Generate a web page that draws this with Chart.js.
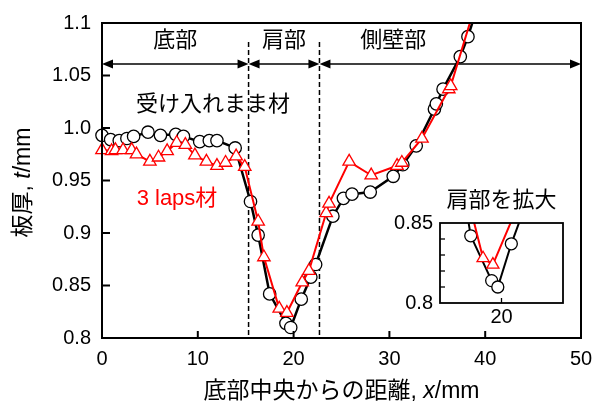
<!DOCTYPE html>
<html>
<head>
<meta charset="utf-8">
<script src="https://cdn.jsdelivr.net/npm/chart.js@4"></script>
<style>
  html, body { margin: 0; padding: 0; background: #fff; }
  #wrap { position: relative; width: 603px; height: 405px; }
  canvas { position: absolute; left: 0; top: 0; }
</style>
</head>
<body>
<div id="wrap">
  <canvas id="grafica" width="603" height="405"></canvas>
  <canvas id="graficaZoom" width="603" height="405"></canvas>
</div>
<script>
// datos
const distBase = [0, 0.9, 1.8, 2.6, 3.3, 4.8, 6.1, 7.7, 8.5, 10.2, 11.2, 12.0, 13.9, 15.5, 16.3, 17.5, 19.2, 19.7, 20.8, 21.8, 22.3, 24.1, 25.2, 26.1, 28.0, 30.4, 31.4, 32.8, 34.7, 34.9, 35.6, 37.4, 38.2, 39.0];
const espBase = [0.993, 0.989, 0.988, 0.990, 0.992, 0.996, 0.993, 0.994, 0.992, 0.987, 0.988, 0.988, 0.981, 0.930, 0.898, 0.842, 0.814, 0.810, 0.837, 0.858, 0.870, 0.916, 0.933, 0.937, 0.939, 0.954, 0.965, 0.983, 1.018, 1.023, 1.037, 1.068, 1.087, 1.110];
const distLaps = [0, 1.0, 1.4, 2.2, 3.1, 3.6, 5.0, 5.9, 6.8, 7.8, 8.7, 9.7, 10.9, 12.0, 12.9, 14.0, 14.9, 16.3, 16.9, 18.5, 19.3, 20.9, 21.6, 23.4, 23.7, 25.8, 28.1, 30.8, 31.3, 33.4, 36.2, 36.4, 39.0];
const espLaps = [0.979, 0.978, 0.979, 0.979, 0.979, 0.975, 0.968, 0.972, 0.978, 0.986, 0.984, 0.974, 0.968, 0.964, 0.967, 0.973, 0.963, 0.911, 0.877, 0.828, 0.824, 0.853, 0.864, 0.919, 0.928, 0.968, 0.955, 0.964, 0.967, 0.990, 1.037, 1.040, 1.118];

const ticksX = [0, 10, 20, 30, 40, 50];
const etiquetasX = ['0', '10', '20', '30', '40', '50'];
const ticksY = [0.8, 0.85, 0.9, 0.95, 1.0, 1.05, 1.1];
const etiquetasY = ['0.8', '0.85', '0.9', '0.95', '1.0', '1.05', '1.1'];

const limites = [0, 15.3, 22.7, 50];
const regiones = ['底部', '肩部', '側壁部'];

const ticksZoomX = [20];
const etiquetasZoomX = ['20'];
const ticksZoomY = [0.8, 0.85];
const etiquetasZoomY = ['0.8', '0.85'];
const menoresZoomY = [0.81, 0.82, 0.83, 0.84];

const FUENTE = '"Liberation Sans", Arial, "Noto Sans CJK JP", sans-serif';

function puntos(xs, ys) {
    return xs.map((v, i) => ({ x: v, y: ys[i] }));
}

function dibujarTexto(ctx, partes, x, y, size, color) {
    // partes: [texto, cursiva]
    let total = 0;
    partes.forEach(p => {
        ctx.font = `${p[1] ? 'italic ' : ''}${size}px ${FUENTE}`;
        total += ctx.measureText(p[0]).width;
    });
    let cx = x - total / 2;
    ctx.fillStyle = color;
    ctx.textAlign = 'left';
    ctx.textBaseline = 'middle';
    partes.forEach(p => {
        ctx.font = `${p[1] ? 'italic ' : ''}${size}px ${FUENTE}`;
        ctx.fillText(p[0], cx, y);
        cx += ctx.measureText(p[0]).width;
    });
}

function flecha(ctx, x1, x2, y) {
    ctx.beginPath();
    ctx.moveTo(x1 + 8, y);
    ctx.lineTo(x2 - 8, y);
    ctx.stroke();
    [[x1, 1], [x2, -1]].forEach(([px, d]) => {
        ctx.beginPath();
        ctx.moveTo(px, y);
        ctx.lineTo(px + d * 11, y - 4.5);
        ctx.lineTo(px + d * 11, y + 4.5);
        ctx.closePath();
        ctx.fill();
    });
}

const decoracion = {
    id: 'decoracion',
    beforeDatasetsDraw(chart) {
        const { ctx, chartArea: a, scales: { x, y } } = chart;
        ctx.save();
        ctx.strokeStyle = '#000';
        ctx.fillStyle = '#000';
        ctx.lineWidth = 1.5;
        ctx.setLineDash([5, 3]);
        limites.slice(1, -1).forEach(v => {
            const px = x.getPixelForValue(v);
            ctx.beginPath();
            ctx.moveTo(px, a.top + 19);
            ctx.lineTo(px, a.bottom);
            ctx.stroke();
        });
        ctx.setLineDash([]);
        const ya = y.getPixelForValue(1.061);
        for (let i = 0; i < limites.length - 1; i++) {
            flecha(ctx, x.getPixelForValue(limites[i]), x.getPixelForValue(limites[i + 1]), ya);
        }
        ctx.restore();
    },
    afterDraw(chart) {
        const { ctx, chartArea: a, scales: { x, y } } = chart;
        ctx.save();
        ctx.strokeStyle = '#000';
        ctx.lineWidth = 2;
        ctx.strokeRect(a.left, a.top, a.right - a.left, a.bottom - a.top);
        // marcas hacia dentro
        ticksX.slice(1, -1).forEach(v => {
            const px = x.getPixelForValue(v);
            ctx.beginPath();
            ctx.moveTo(px, a.bottom);
            ctx.lineTo(px, a.bottom - 7);
            ctx.stroke();
        });
        ticksY.slice(1, -1).forEach(v => {
            const py = y.getPixelForValue(v);
            ctx.beginPath();
            ctx.moveTo(a.left, py);
            ctx.lineTo(a.left + 8, py);
            ctx.stroke();
        });
        // rotulos de regiones
        const posRegion = [7.65, 19.0, 30.4];
        regiones.forEach((r, i) => {
            dibujarTexto(ctx, [[r, false]], x.getPixelForValue(posRegion[i]), a.top + 18, 22, '#000');
        });
        dibujarTexto(ctx, [['受け入れまま材', false]], 213, 105, 22, '#000');
        dibujarTexto(ctx, [['3 laps材', false]], 177, 199, 22, '#ff0000');
        // titulos de ejes
        dibujarTexto(ctx, [['底部中央からの距離, ', false], ['x', true], ['/mm', false]], (a.left + a.right) / 2, 392, 23, '#000');
        ctx.translate(24, (a.top + a.bottom) / 2 + 2);
        ctx.rotate(-Math.PI / 2);
        dibujarTexto(ctx, [['板厚, ', false], ['t', true], ['/mm', false]], 0, 0, 23, '#000');
        ctx.restore();
    }
};

const decoracionZoom = {
    id: 'decoracionZoom',
    afterDraw(chart) {
        const { ctx, chartArea: a, scales: { x, y } } = chart;
        ctx.save();
        ctx.strokeStyle = '#000';
        ctx.lineWidth = 1.8;
        ctx.strokeRect(a.left, a.top, a.right - a.left, a.bottom - a.top);
        ctx.lineWidth = 1.3;
        menoresZoomY.forEach(v => {
            const py = y.getPixelForValue(v);
            ctx.beginPath();
            ctx.moveTo(a.left, py);
            ctx.lineTo(a.left + 5, py);
            ctx.stroke();
        });
        ticksZoomX.forEach(v => {
            const px = x.getPixelForValue(v);
            ctx.beginPath();
            ctx.moveTo(px, a.bottom);
            ctx.lineTo(px, a.bottom - 5);
            ctx.stroke();
        });
        dibujarTexto(ctx, [['肩部を拡大', false]], (a.left + a.right) / 2, a.top - 22, 22, '#000');
        ctx.restore();
    }
};

function series(radio) {
    return [{
        label: '3 laps材',
        data: puntos(distLaps, espLaps),
        showLine: true,
        borderColor: '#ff0000',
        borderWidth: 2,
        pointStyle: 'triangle',
        pointRadius: radio + 1,
        pointBorderWidth: 1.3,
        pointBorderColor: '#ff0000',
        pointBackgroundColor: '#ffffff',
        tension: 0
    }, {
        label: '受け入れまま材',
        data: puntos(distBase, espBase),
        showLine: true,
        borderColor: '#000000',
        borderWidth: 2.5,
        pointStyle: 'circle',
        pointRadius: radio,
        pointBorderWidth: 1.3,
        pointBorderColor: '#000000',
        pointBackgroundColor: '#ffffff',
        tension: 0
    }];
}

function inicializar() {
    const fuenteTicks = { family: FUENTE, size: 20 };
    const sinGrid = { display: false, drawTicks: false };

    const ctxMain = document.getElementById('grafica').getContext('2d');
    const datosMain = series(6.2);
    datosMain.forEach(d => { d.clip = { left: 10, top: 0, right: 0, bottom: 10 }; });

    new Chart(ctxMain, {
        type: 'scatter',
        data: { datasets: datosMain },
        options: {
            responsive: false,
            animation: false,
            events: [],
            layout: { padding: { left: 0, right: 22, top: 18, bottom: 0 } },
            plugins: { legend: { display: false }, tooltip: { enabled: false } },
            scales: {
                x: {
                    type: 'linear',
                    min: 0,
                    max: 50,
                    afterFit: s => { s.height = 67; },
                    afterBuildTicks: s => { s.ticks = ticksX.map(v => ({ value: v })); },
                    grid: sinGrid,
                    border: { display: false },
                    ticks: {
                        font: fuenteTicks,
                        color: '#000',
                        padding: 9,
                        maxRotation: 0,
                        autoSkip: false,
                        callback: (v, i) => etiquetasX[i]
                    }
                },
                y: {
                    type: 'linear',
                    min: 0.8,
                    max: 1.1,
                    afterFit: s => { s.width = 102; },
                    afterBuildTicks: s => { s.ticks = ticksY.map(v => ({ value: v })); },
                    grid: sinGrid,
                    border: { display: false },
                    ticks: {
                        font: fuenteTicks,
                        color: '#000',
                        padding: 11,
                        autoSkip: false,
                        callback: (v, i) => etiquetasY[i]
                    }
                }
            }
        },
        plugins: [decoracion]
    });

    const ctxZoom = document.getElementById('graficaZoom').getContext('2d');
    const datosZoom = series(6);
    datosZoom[1].borderWidth = 2;
    datosZoom.forEach(d => { d.clip = 0; });

    new Chart(ctxZoom, {
        type: 'scatter',
        data: { datasets: datosZoom },
        options: {
            responsive: false,
            animation: false,
            events: [],
            layout: { padding: { left: 370, right: 40, top: 223, bottom: 72 } },
            plugins: { legend: { display: false }, tooltip: { enabled: false } },
            scales: {
                x: {
                    type: 'linear',
                    min: 15,
                    max: 25,
                    afterFit: s => { s.height = 30; },
                    afterBuildTicks: s => { s.ticks = ticksZoomX.map(v => ({ value: v })); },
                    grid: sinGrid,
                    border: { display: false },
                    ticks: {
                        font: fuenteTicks,
                        color: '#000',
                        padding: 2,
                        maxRotation: 0,
                        autoSkip: false,
                        callback: (v, i) => etiquetasZoomX[i]
                    }
                },
                y: {
                    type: 'linear',
                    min: 0.8,
                    max: 0.85,
                    afterFit: s => { s.width = 70; },
                    afterBuildTicks: s => { s.ticks = ticksZoomY.map(v => ({ value: v })); },
                    grid: sinGrid,
                    border: { display: false },
                    ticks: {
                        font: fuenteTicks,
                        color: '#000',
                        padding: 7,
                        autoSkip: false,
                        callback: (v, i) => etiquetasZoomY[i]
                    }
                }
            }
        },
        plugins: [decoracionZoom]
    });
}

document.addEventListener('DOMContentLoaded', (event) => {
    inicializar();
});
</script>
</body>
</html>
